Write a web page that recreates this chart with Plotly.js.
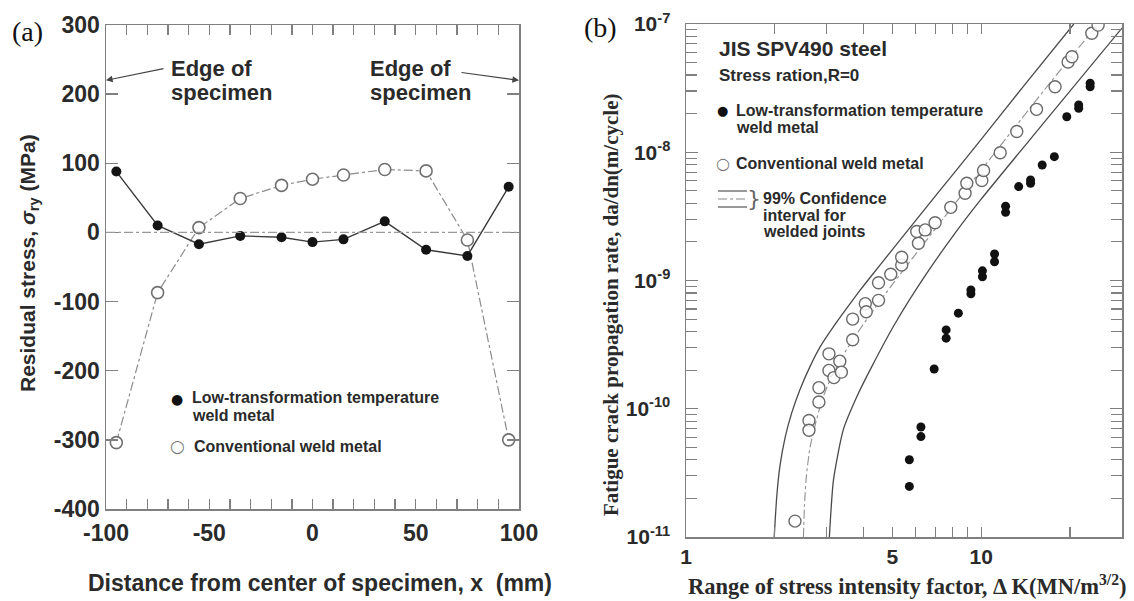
<!DOCTYPE html>
<html>
<head>
<meta charset="utf-8">
<script src="https://cdn.plot.ly/plotly-3.0.1.min.js"></script>
<style>html,body{margin:0;padding:0;background:#fff;}#chart{width:1134px;height:601px;}</style>
</head>
<body>
<div id="chart"></div>
<script>
// ---------- Panel (a): residual stress ----------
const distX = [-95, -75, -55, -35, -15, 0, 15, 35, 55, 75, 95];
const stressLowT = [88, 10, -17, -5, -7, -14, -10, 16, -25, -34, 66];
const stressConv = [-304, -87, 7, 49, 68, 77, 83, 91, 89, -11, -300];
const aXTickVals = [-100,-90,-80,-70,-60,-50,-40,-30,-20,-10,0,10,20,30,40,50,60,70,80,90,100];
const aXTickText = ['-100','','','','','-50','','','','','0','','','','','50','','','','','100'];
const aYTickVals = [-400, -300, -200, -100, 0, 100, 200, 300];
const aYTickText = ['-400', '-300', '-200', '-100', '0', '100', '200', '300'];

// ---------- Panel (b): fatigue crack propagation ----------
const dKConv = [2.34, 2.61, 2.61, 2.82, 2.82, 3.05, 3.05, 3.17, 3.32, 3.36, 3.67, 3.67, 4.05, 4.08, 4.49, 4.49,
                4.94, 5.38, 5.38, 6.13, 6.05, 6.46, 6.98, 7.89, 8.82, 8.94, 10.05, 10.19, 11.6, 13.2, 15.4,
                17.8, 19.7, 20.3, 23.7, 24.9];
const rateConv = [1.33e-11, 8.1e-11, 6.8e-11, 1.46e-10, 1.13e-10, 2.68e-10, 1.99e-10, 1.75e-10, 2.35e-10, 1.93e-10,
                  5.0e-10, 3.45e-10, 6.6e-10, 5.7e-10, 9.6e-10, 7.0e-10, 1.12e-9, 1.32e-9, 1.52e-9, 1.95e-9,
                  2.41e-9, 2.48e-9, 2.82e-9, 3.72e-9, 4.79e-9, 5.73e-9, 6.02e-9, 7.2e-9, 9.9e-9, 1.45e-8,
                  2.16e-8, 3.24e-8, 5.06e-8, 5.56e-8, 8.47e-8, 9.8e-8];
const dKLowT = [5.71, 5.71, 6.25, 6.25, 6.93, 7.61, 7.61, 8.37, 9.23, 9.23, 10.1, 10.1, 11.1, 11.1, 12.1, 12.1,
                13.4, 14.7, 14.7, 16.1, 17.7, 19.5, 21.4, 21.4, 23.4, 23.4];
const rateLowT = [2.48e-11, 4.0e-11, 6.07e-11, 7.2e-11, 2.04e-10, 3.55e-10, 4.12e-10, 5.56e-10, 7.87e-10, 8.45e-10,
                  1.07e-9, 1.19e-9, 1.40e-9, 1.61e-9, 3.4e-9, 3.8e-9, 5.4e-9, 5.73e-9, 6.08e-9, 7.96e-9,
                  9.24e-9, 1.89e-8, 2.2e-8, 2.34e-8, 3.24e-8, 3.45e-8];
// 99% confidence band (upper / lower) and mean curve for welded joints
const dKUpper = [1.99, 2.03, 2.08, 2.17, 2.28, 2.43, 2.63, 2.85, 3.16, 3.51, 3.89, 4.21, 5.01, 7.08, 10.0, 14.1, 20.6];
const rateUpper = [1.0e-11, 2.07e-11, 3.55e-11, 6.07e-11, 9.24e-11, 1.40e-10, 2.13e-10, 3.05e-10, 4.37e-10, 6.11e-10,
                   8.40e-10, 1.06e-9, 1.75e-9, 4.71e-9, 1.26e-8, 3.40e-8, 1.0e-7];
const dKMean = [2.50, 2.52, 2.56, 2.63, 2.74, 2.89, 3.10, 3.38, 3.77, 4.27, 4.99, 6.46, 8.49, 11.6, 17.1, 24.9];
const rateMean = [1.0e-11, 1.78e-11, 3.05e-11, 4.96e-11, 7.48e-11, 1.17e-10, 1.74e-10, 2.54e-10, 3.77e-10, 5.69e-10,
                  9.24e-10, 2.0e-9, 4.49e-9, 1.12e-8, 3.47e-8, 1.0e-7];
const dKLower = [3.06, 3.16, 3.41, 3.79, 4.26, 5.11, 6.46, 8.17, 9.92, 15.85, 30.0];
const rateLower = [1.0e-11, 2.79e-11, 6.85e-11, 1.24e-10, 2.13e-10, 4.62e-10, 1.09e-9, 2.35e-9, 4.21e-9, 1.57e-8, 9.3e-8];
const bXTickVals = [1, 2, 3, 4, 5, 6, 7, 8, 9, 10, 20, 30];
const bXTickText = ['1', '', '', '', '5', '', '', '', '', '10', '', ''];
const bYTickVals = [1e-11, 1e-10, 1e-9, 1e-8, 1e-7];
const bYTickText = ['10<sup>-11</sup>', '10<sup>-10</sup>', '10<sup>-9</sup>', '10<sup>-8</sup>', '10<sup>-7</sup>'];
const bYMinorVals = [2e-11,3e-11,4e-11,5e-11,6e-11,7e-11,8e-11,9e-11,
                     2e-10,3e-10,4e-10,5e-10,6e-10,7e-10,8e-10,9e-10,
                     2e-9,3e-9,4e-9,5e-9,6e-9,7e-9,8e-9,9e-9,
                     2e-8,3e-8,4e-8,5e-8,6e-8,7e-8,8e-8,9e-8];

// ---------- helpers (pixel -> paper) ----------
const W = 1134, H = 601;
const PX = x => x / W;
const PY = y => 1 - y / H;
const SANS = 'Liberation Sans, Arial, Helvetica, sans-serif';
const SERIF = 'Liberation Serif, Times New Roman, serif';
const TXT = '#2a2a2a';
const AX = '#808080';

const traces = [
  { x: distX, y: stressConv, xaxis: 'x', yaxis: 'y', mode: 'lines+markers',
    line: { color: '#8c8c8c', width: 1.2, dash: 'dashdot' },
    marker: { symbol: 'circle', size: 12, color: '#ffffff', line: { color: '#707070', width: 1.6 } } },
  { x: distX, y: stressLowT, xaxis: 'x', yaxis: 'y', mode: 'lines+markers',
    line: { color: '#3a3a3a', width: 1.4 },
    marker: { symbol: 'circle', size: 10, color: '#141414' } },
  { x: dKUpper, y: rateUpper, xaxis: 'x2', yaxis: 'y2', mode: 'lines',
    line: { color: '#4a4a4a', width: 1.3, shape: 'spline', smoothing: 0.6 } },
  { x: dKLower, y: rateLower, xaxis: 'x2', yaxis: 'y2', mode: 'lines',
    line: { color: '#4a4a4a', width: 1.3, shape: 'spline', smoothing: 0.6 } },
  { x: dKMean, y: rateMean, xaxis: 'x2', yaxis: 'y2', mode: 'lines',
    line: { color: '#909090', width: 1.1, dash: 'dashdot', shape: 'spline', smoothing: 0.6 } },
  { x: dKConv, y: rateConv, xaxis: 'x2', yaxis: 'y2', mode: 'markers',
    marker: { symbol: 'circle', size: 12, color: 'rgba(255,255,255,0.85)', line: { color: '#6a6a6a', width: 1.4 } } },
  { x: dKLowT, y: rateLowT, xaxis: 'x2', yaxis: 'y2', mode: 'markers',
    marker: { symbol: 'circle', size: 9, color: '#111111' } }
];

function ann(text, x, y, size, opts) {
  return Object.assign({ text: text, x: PX(x), y: PY(y), xref: 'paper', yref: 'paper',
    xanchor: 'left', yanchor: 'middle', showarrow: false,
    font: { family: SANS, size: size, color: TXT, weight: 'bold' } }, opts || {});
}

const annotations = [
  // panel letters
  ann('(a)', 10, 32, 28, { font: { family: SERIF, size: 28, color: '#111' } }),
  ann('(b)', 582, 28, 28, { font: { family: SERIF, size: 28, color: '#111' } }),
  // edge of specimen labels
  ann('Edge of', 169, 68, 22), ann('specimen', 169, 93, 22),
  ann('Edge of', 368, 68, 22), ann('specimen', 368, 93, 22),
  { x: -100, y: 220, xref: 'x', yref: 'y', text: '', showarrow: true, ax: 59, ay: -12,
    arrowhead: 2, arrowsize: 1.1, arrowwidth: 1.2, arrowcolor: '#444' },
  { x: 100, y: 220, xref: 'x', yref: 'y', text: '', showarrow: true, ax: -59, ay: -8,
    arrowhead: 2, arrowsize: 1.1, arrowwidth: 1.2, arrowcolor: '#444' },
  // legend (a)
  ann('\u25CF', 169, 399, 14, { font: { family: 'DejaVu Sans', size: 14, color: '#111' } }),
  ann('Low-transformation temperature', 190, 397, 16), ann('weld metal', 190, 415, 16),
  ann('\u25CB', 168, 446, 17, { font: { family: 'DejaVu Sans', size: 17, color: '#777' } }),
  ann('Conventional weld metal', 192, 446, 16),
  // axis titles (a)
  ann('Residual stress, <i>\u03C3</i><sub>ry</sub> (MPa)', 29, 263, 21, { xanchor: 'center', textangle: -90 }),
  ann('Distance from center of specimen, x\u00A0\u00A0(mm)', 320, 583, 23, { xanchor: 'center' }),
  // legend / notes (b)
  ann('JIS SPV490 steel', 717, 48, 21),
  ann('Stress ration,R=0', 717, 75, 17),
  ann('\u25CF', 715, 110, 13, { font: { family: 'DejaVu Sans', size: 13, color: '#111' } }),
  ann('Low-transformation temperature', 734, 110, 16), ann('weld metal', 734, 127, 16),
  ann('\u25CB', 714, 163, 16, { font: { family: 'DejaVu Sans', size: 16, color: '#777' } }),
  ann('Conventional weld metal', 734, 163, 16),
  ann('}', 754, 199, 22, { xanchor: 'center', font: { family: 'DejaVu Sans', size: 22, color: '#666', weight: 'normal' } }),
  ann('99% Confidence', 761, 199, 16), ann('interval for', 761, 215, 16), ann('welded joints', 761, 231, 16),
  // axis titles (b)
  ann('Fatigue crack propagation rate, da/dn(m/cycle)', 611, 305, 21,
      { xanchor: 'center', textangle: -90, font: { family: SERIF, size: 21, color: TXT, weight: 'bold' } }),
  ann('Range of stress intensity factor, \u0394 K(MN/m<sup>3/2</sup>)', 907, 585, 22.5,
      { xanchor: 'center', font: { family: SERIF, size: 22.5, color: TXT, weight: 'bold' } })
];

const shapes = [
  { type: 'line', xref: 'paper', yref: 'y', x0: PX(106), x1: PX(519), y0: 0, y1: 0,
    line: { color: '#9a9a9a', width: 1.2, dash: 'dashdot' } },
  { type: 'line', xref: 'paper', yref: 'paper', x0: PX(718), x1: PX(747), y0: PY(191), y1: PY(191),
    line: { color: '#555', width: 1.2 } },
  { type: 'line', xref: 'paper', yref: 'paper', x0: PX(718), x1: PX(747), y0: PY(199), y1: PY(199),
    line: { color: '#888', width: 1.1, dash: 'dashdot' } },
  { type: 'line', xref: 'paper', yref: 'paper', x0: PX(718), x1: PX(747), y0: PY(207), y1: PY(207),
    line: { color: '#555', width: 1.2 } }
];

const axCommon = { showgrid: false, zeroline: false, showline: true, mirror: 'allticks',
  linecolor: AX, linewidth: 1.5, ticks: 'inside', tickcolor: AX, tickwidth: 1.3 };

const layout = {
  width: W, height: H,
  margin: { l: 0, r: 0, t: 0, b: 0 },
  paper_bgcolor: '#ffffff', plot_bgcolor: '#ffffff',
  showlegend: false,
  xaxis: Object.assign({}, axCommon, {
    domain: [PX(106), PX(519)], range: [-100, 100], anchor: 'y',
    tickmode: 'array', tickvals: aXTickVals, ticktext: aXTickText, ticklen: 10,
    ticklabelstandoff: 3,
    tickfont: { family: SANS, size: 23, color: TXT, weight: 'bold' } }),
  yaxis: Object.assign({}, axCommon, {
    domain: [PY(509), PY(25)], range: [-400, 300], anchor: 'x',
    tickmode: 'array', tickvals: aYTickVals, ticktext: aYTickText, ticklen: 12,
    tickfont: { family: SANS, size: 23, color: TXT, weight: 'bold' } }),
  xaxis2: Object.assign({}, axCommon, {
    type: 'log', domain: [PX(686), PX(1122)], range: [0, Math.log10(30)], anchor: 'y2',
    tickmode: 'array', tickvals: bXTickVals, ticktext: bXTickText, ticklen: 10,
    ticklabelstandoff: 0,
    tickfont: { family: SANS, size: 21, color: TXT, weight: 'bold' } }),
  yaxis2: Object.assign({}, axCommon, {
    type: 'log', domain: [PY(537), PY(24)], range: [-11, -7], anchor: 'x2',
    tickmode: 'array', tickvals: bYTickVals, ticktext: bYTickText, ticklen: 12,
    ticklabelstandoff: 10,
    minor: { tickmode: 'array', tickvals: bYMinorVals, ticks: 'inside', ticklen: 11, tickcolor: AX, tickwidth: 1.2 },
    tickfont: { family: SANS, size: 21, color: TXT, weight: 'bold' } }),
  annotations: annotations,
  shapes: shapes
};

Plotly.newPlot('chart', traces, layout, { staticPlot: true, displayModeBar: false });
</script>
</body>
</html>
